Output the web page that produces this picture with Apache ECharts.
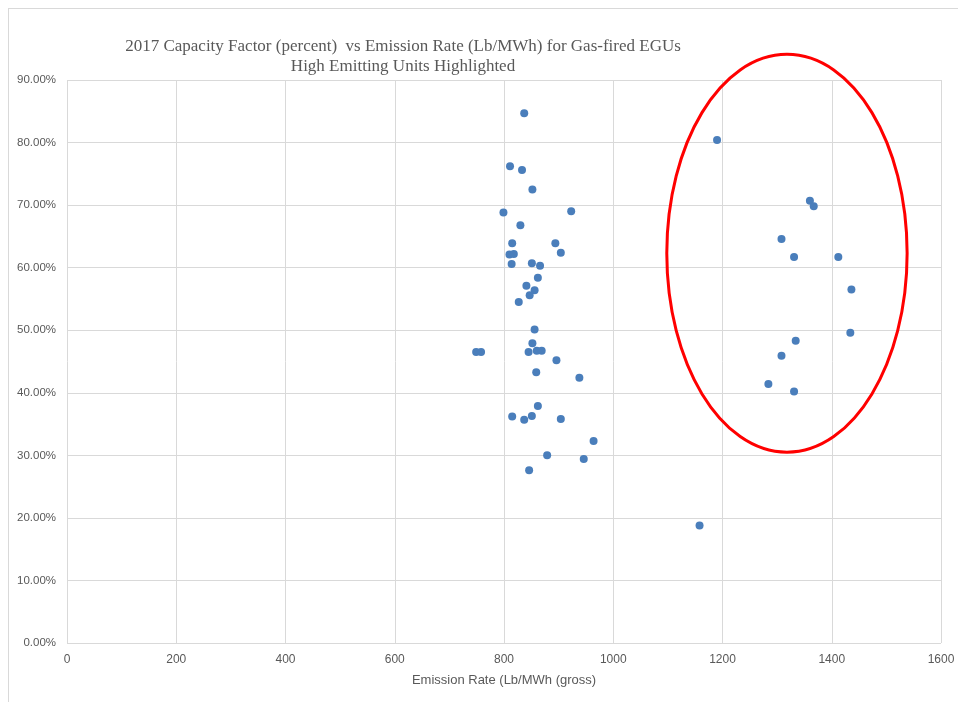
<!DOCTYPE html>
<html>
<head>
<meta charset="utf-8">
<script src="https://cdn.jsdelivr.net/npm/echarts@6/dist/echarts.min.js"></script>
<style>
  html, body { margin: 0; padding: 0; background: #fff; }
  #frame { position: absolute; left: 8px; top: 8px; width: 960px; height: 700px; border-left: 1px solid #d9d9d9; border-top: 1px solid #d9d9d9; box-sizing: border-box; }
  #chart { position: absolute; left: 0; top: 0; width: 958px; height: 702px; }
</style>
</head>
<body>
<div id="frame"></div>
<div id="chart"></div>
<script>
// Gas-fired EGUs, 2017: emission rate (Lb/MWh gross) and capacity factor (%)
const emissionRate = [
  837, 811, 833, 852, 799, 923, 830, 815, 894, 810, 818, 904, 814, 851, 866, 862,
  841, 856, 847, 827, 856, 852, 749, 758, 845, 860, 869, 896, 859, 938, 862, 815,
  837, 851, 904, 879, 946, 846, 964,
  1190, 1360, 1367, 1308, 1331, 1412, 1436, 1434, 1334, 1308, 1284, 1331,
  1158
];
const capacityFactor = [
  84.7, 76.2, 75.6, 72.5, 68.8, 69.0, 66.8, 63.9, 63.9, 62.1, 62.2, 62.4, 60.6, 60.7, 60.3, 58.4,
  57.1, 56.4, 55.6, 54.5, 50.1, 47.9, 46.5, 46.5, 46.5, 46.7, 46.7, 45.2, 43.3, 42.4, 37.9, 36.2,
  35.7, 36.3, 35.8, 30.0, 29.4, 27.6, 32.3,
  80.4, 70.7, 69.8, 64.6, 61.7, 61.7, 56.5, 49.6, 48.3, 45.9, 41.4, 40.2,
  18.8
];
const xTicks = { min: 0, max: 1600, interval: 200 };
const yTicks = { min: 0, max: 90, interval: 10 };
const titleLines = [
  '2017 Capacity Factor (percent)  vs Emission Rate (Lb/MWh) for Gas-fired EGUs',
  'High Emitting Units Highlighted'
];
const xAxisTitle = 'Emission Rate (Lb/MWh (gross)';
// highlighted group of high emitting units (data coordinates)
const highlight = { cx: 1318, cy: 62.3, rx: 220, ry: 31.8 };

const points = emissionRate.map((x, i) => [x, capacityFactor[i]]);
const labelFont = "'Liberation Sans Narrow', 'Liberation Sans', Arial, sans-serif";

const chart = echarts.init(document.getElementById('chart'), null, { renderer: 'canvas' });
chart.setOption({
  animation: false,
  backgroundColor: 'transparent',
  title: {
    text: titleLines.join('\n'),
    left: 398,
    top: 32,
    textAlign: 'center',
    textStyle: {
      fontFamily: "'Liberation Serif', 'Times New Roman', serif",
      fontSize: 17,
      fontWeight: 'normal',
      color: '#595959',
      lineHeight: 20
    }
  },
  grid: { left: 67, right: 17, top: 80, bottom: 59, containLabel: false },
  xAxis: {
    type: 'value',
    min: xTicks.min, max: xTicks.max, interval: xTicks.interval,
    name: xAxisTitle,
    nameLocation: 'middle',
    nameGap: 31,
    nameTextStyle: { fontFamily: labelFont, fontSize: 13, color: '#595959' },
    axisLine: { show: false },
    axisTick: { show: false },
    axisLabel: {
      margin: 11, fontFamily: labelFont, fontSize: 12, color: '#595959',
      formatter: v => String(v)
    },
    splitLine: { show: true, lineStyle: { color: '#d9d9d9', width: 1 } }
  },
  yAxis: {
    type: 'value',
    min: yTicks.min, max: yTicks.max, interval: yTicks.interval,
    axisLine: { show: false },
    axisTick: { show: false },
    axisLabel: {
      margin: 11, fontFamily: labelFont, fontSize: 11.5, color: '#595959',
      formatter: v => v.toFixed(2) + '%'
    },
    splitLine: { show: true, lineStyle: { color: '#d9d9d9', width: 1 } }
  },
  series: [{
    type: 'scatter',
    data: points,
    symbol: 'circle',
    symbolSize: 8,
    itemStyle: { color: '#4a7ebb', opacity: 1 }
  }]
});

// red ellipse around the high emitting units
const c = chart.convertToPixel({ gridIndex: 0 }, [highlight.cx, highlight.cy]);
const e = chart.convertToPixel({ gridIndex: 0 }, [highlight.cx + highlight.rx, highlight.cy + highlight.ry]);
chart.setOption({
  graphic: [{
    type: 'ellipse',
    shape: { cx: c[0], cy: c[1], rx: Math.abs(e[0] - c[0]), ry: Math.abs(c[1] - e[1]) },
    style: { fill: 'none', stroke: '#ff0000', lineWidth: 3 },
    z: 10
  }]
});
</script>
</body>
</html>
